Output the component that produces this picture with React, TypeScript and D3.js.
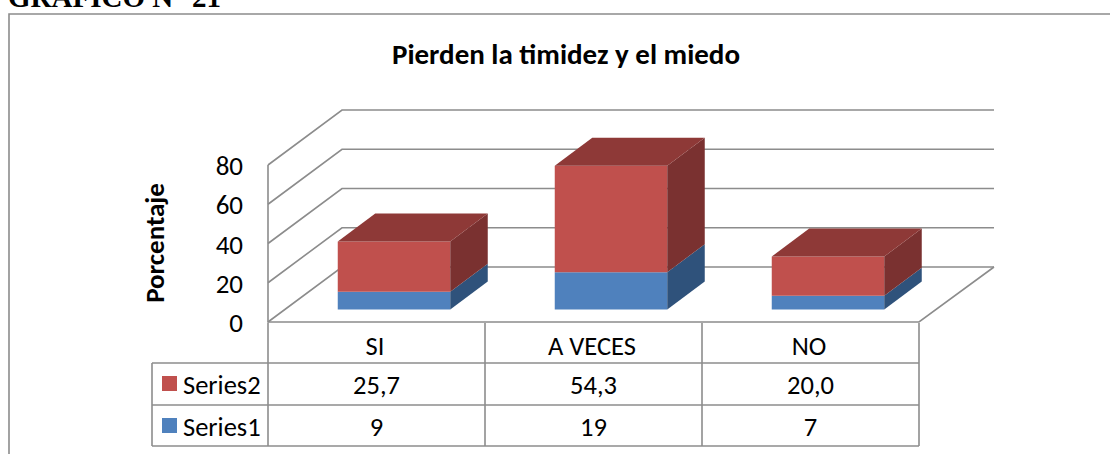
import React from "react";
import * as d3 from "d3";

const categories = ["SI", "A VECES", "NO"];
const series1 = [9, 19, 7];
const series2 = [25.7, 54.3, 20.0];
const series2Labels = ["25,7", "54,3", "20,0"];
const series1Labels = ["9", "19", "7"];
const yTicks = [0, 20, 40, 60, 80];

const FONT = "Calibri, Carlito, 'Open Sans', 'Noto Sans', sans-serif";
const GRID = "#8c8c8c";

const y = d3.scaleLinear().domain([0, 80]).range([322, 165]);
const tableX = d3.scaleBand<string>().domain(categories).range([268, 919]);
const barBase = 309.5;
const barW = 112.5;
const barShift = 17.5;
const dw = 74, dh = 55; // wall depth
const bd = 37.5, bh = 28; // bar depth

const poly = (pts: [number, number][]) => d3.line()(pts) + "Z";

export default function App() {
  const rows = [
    { name: "Series2", color: "#c0504d", labels: series2Labels, top: 363, bottom: 405 },
    { name: "Series1", color: "#4f81bd", labels: series1Labels, top: 405, bottom: 446 },
  ];
  return (
    <svg width={1110} height={454} style={{ position: "absolute", left: 0, top: 0, background: "#fff" }}>
      <text x={8} y={7} fontFamily="'Liberation Serif', serif" fontWeight="bold" fontSize={29} fill="#000">GRÁFICO N° 21</text>
      <path d="M9,454V14H1110" fill="none" stroke={GRID} strokeWidth={1.6} />
      <text x={566} y={64} textAnchor="middle" fontFamily={FONT} fontWeight="bold" fontSize={29} fill="#000">Pierden la timidez y el miedo</text>

      {yTicks.map((t) => (
        <g key={t}>
          <path d={`M268,${y(t)}L${268 + dw},${y(t) - dh}H994`} fill="none" stroke={GRID} strokeWidth={1.6} />
          <text x={243} y={y(t) + 10} textAnchor="end" fontFamily={FONT} fontSize={27} fill="#000">{t}</text>
        </g>
      ))}
      <path d={`M268,${y(80)}V${y(0)}H919L994,${y(0) - dh}`} fill="none" stroke={GRID} strokeWidth={1.6} />
      <text transform="translate(164,243) rotate(-90)" textAnchor="middle" fontFamily={FONT} fontWeight="bold" fontSize={27} fill="#000">Porcentaje</text>

      {categories.map((c, i) => {
        const x0 = tableX(c)! + tableX.bandwidth() / 2 - barW / 2 + barShift;
        const x1 = x0 + barW;
        const unit = (y(0) - y(1));
        const yb1 = barBase - series1[i] * unit;
        const yb2 = yb1 - series2[i] * unit;
        return (
          <g key={c}>
            <path d={poly([[x0, barBase], [x1, barBase], [x1, yb1], [x0, yb1]])} fill="#4f81bd" />
            <path d={poly([[x1, barBase], [x1 + bd, barBase - bh], [x1 + bd, yb1 - bh], [x1, yb1]])} fill="#2f527b" />
            <path d={poly([[x0, yb1], [x1, yb1], [x1, yb2], [x0, yb2]])} fill="#c0504d" />
            <path d={poly([[x1, yb1], [x1 + bd, yb1 - bh], [x1 + bd, yb2 - bh], [x1, yb2]])} fill="#7a3130" />
            <path d={poly([[x0, yb2], [x1, yb2], [x1 + bd, yb2 - bh], [x0 + bd, yb2 - bh]])} fill="#8e3937" />
          </g>
        );
      })}

      <g stroke={GRID} strokeWidth={1.6} fill="none">
        {[268, 485, 702, 919].map((x) => <path key={x} d={`M${x},323V446`} />)}
        <path d="M152,363V446" />
        {rows.map((r) => <path key={r.name} d={`M152,${r.top}H919`} />)}
        <path d="M152,446H919" />
      </g>
      {categories.map((c) => (
        <text key={c} x={tableX(c)! + tableX.bandwidth() / 2 - 1.5} y={355} textAnchor="middle" fontFamily={FONT} fontSize={26.5} fill="#000">{c}</text>
      ))}
      {rows.map((r) => (
        <g key={r.name}>
          <rect x={162} y={r.top + 13} width={15} height={15} fill={r.color} />
          <text x={183} y={r.top + 31} fontFamily={FONT} fontSize={26.5} fill="#000">{r.name}</text>
          {r.labels.map((l, i) => (
            <text key={i} x={tableX(categories[i])! + tableX.bandwidth() / 2} y={r.top + 31} textAnchor="middle" fontFamily={FONT} fontSize={26.5} fill="#000">{l}</text>
          ))}
        </g>
      ))}
    </svg>
  );
}
